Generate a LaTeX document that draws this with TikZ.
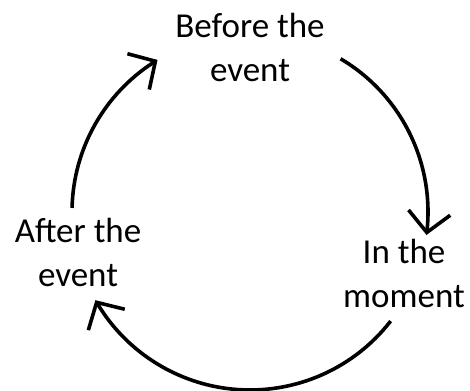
\documentclass[tikz,border=0pt]{standalone}
\usepackage{fontspec}
\setmainfont{Carlito}
\usetikzlibrary{arrows.meta,bending}

\begin{document}
\begin{tikzpicture}[x=1pt,y=1pt,
  every node/.style={font=\fontsize{35}{44}\selectfont,align=center,inner sep=0pt,anchor=base},
  cyclearrow/.style={line width=3.6pt,-{Straight Barb[length=20pt,width=42pt,line width=3.6pt,flex]}}]
\useasboundingbox (0,0) rectangle (470,390);
% stage labels round the cycle (anchor = last baseline)
\node (before) at (250,308) {Before the\\event};
\node (moment) at (404,82)  {In the\\moment};
\node (after)  at (78,103)  {After the\\event};
% centre of the cycle
\coordinate (hub) at (250,178);
% arcs: start angle / end angle
\foreach \a/\b in {59.4/-7.4,-37.8/-150.3,178.7/121.3}{
  \draw[cyclearrow] ([shift={(\a:178)}]hub) arc[start angle=\a,end angle=\b,radius=178];}
\end{tikzpicture}
\end{document}
